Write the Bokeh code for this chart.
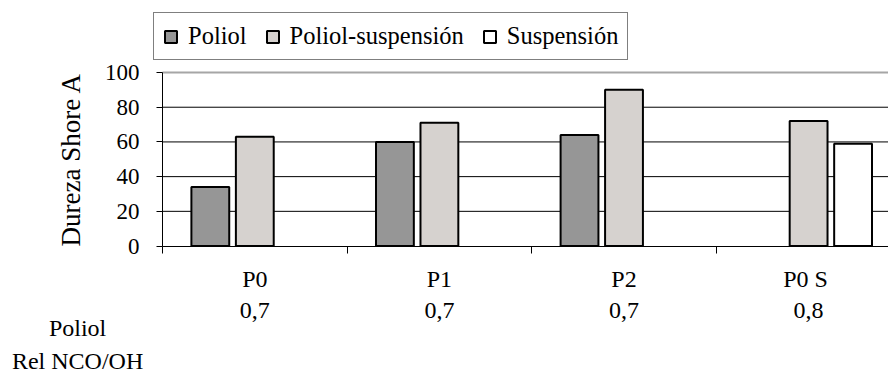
from bokeh.plotting import figure
from bokeh.models import (ColumnDataSource, Range1d, FixedTicker, Legend, LegendItem,
                          Label)
from bokeh.embed import file_html
from bokeh.resources import INLINE

# ---- data ----
categories = ["P0", "P1", "P2", "P0  S"]
rel_nco_oh = ["0,7", "0,7", "0,7", "0,8"]
poliol = [34, 60, 64, None]
poliol_suspension = [63, 71, 90, 72]
suspension = [None, None, None, 59]
series_names = ["Poliol", "Poliol-suspensión", "Suspensión"]
y_ticks = [0, 20, 40, 60, 80, 100]
row_headers = ["Poliol", "Rel NCO/OH"]

# ---- layout / styles ----
FONT = "Liberation Serif"
colors = ["#969696", "#D6D2CF", "#FFFFFF"]
offsets = [-0.241, 0.0, 0.241]
bar_w = 0.205
X0, X1 = -0.8776, 3.9328       # whole canvas is the frame; plot area starts at x=0
Y0, Y1 = -74.6, 141.5          # plot area spans y=0..100
header_pos = [(-0.46, -47.5), (-0.46, -66.0)]

p = figure(width=888, height=375, output_backend="svg", toolbar_location=None,
           x_range=Range1d(X0, X1), y_range=Range1d(Y0, Y1),
           min_border_left=0, min_border_right=0, min_border_top=0,
           min_border_bottom=0, background_fill_color="white",
           border_fill_color="white", outline_line_color=None)
p.grid.visible = False

# horizontal gridlines across the plot area only
grid_y = y_ticks[1:-1]
p.segment(x0=[0] * len(grid_y), x1=[X1] * len(grid_y), y0=grid_y, y1=grid_y,
          line_color="black", line_width=1)
p.segment(x0=[0], x1=[X1], y0=[y_ticks[-1]], y1=[y_ticks[-1]],
          line_color="#a6a6a6", line_width=2)

renderers = []
for vals, col, off in zip([poliol, poliol_suspension, suspension], colors, offsets):
    xs, tops = [], []
    for i, v in enumerate(vals):
        if v is not None:
            xs.append(i + 0.5 + off)
            tops.append(v)
    src = ColumnDataSource(dict(x=xs, top=tops))
    r = p.vbar(x="x", top="top", bottom=0, width=bar_w, source=src,
               fill_color=col, line_color="black", line_width=2)
    renderers.append(r)

# y axis, drawn at x=0
ya = p.yaxis[0]
ya.fixed_location = 0
ya.bounds = (y_ticks[0], y_ticks[-1])
ya.ticker = FixedTicker(ticks=y_ticks)
ya.axis_line_color = "black"
ya.major_tick_line_color = "black"
ya.major_tick_out = 6
ya.major_tick_in = 0
ya.minor_tick_line_color = None
ya.major_label_standoff = 17
ya.major_label_text_font = FONT
ya.major_label_text_font_size = "23px"
ya.major_label_text_color = "black"
ya.axis_label = "Dureza Shore A"
ya.axis_label_text_font = FONT
ya.axis_label_text_font_size = "27px"
ya.axis_label_text_font_style = "normal"
ya.axis_label_text_color = "black"
ya.axis_label_standoff = 16

# x axis, drawn at y=0: labels at category centres, tick marks at boundaries
xa = p.xaxis[0]
xa.fixed_location = 0
xa.bounds = (0, X1)
centers = [i + 0.5 for i in range(len(categories))]
xa.ticker = FixedTicker(ticks=centers, minor_ticks=list(range(len(categories))))
xa.major_label_overrides = {c: f"{cat}\n{r}" for c, cat, r in zip(centers, categories, rel_nco_oh)}
xa.axis_line_color = "black"
xa.major_tick_line_color = None
xa.major_tick_out = 0
xa.major_tick_in = 0
xa.minor_tick_line_color = "black"
xa.minor_tick_out = 7
xa.minor_tick_in = 0
xa.major_label_standoff = 13
xa.major_label_text_font = FONT
xa.major_label_text_font_size = "24px"
xa.major_label_text_color = "black"
xa.major_label_text_line_height = 1.18

# row headers of the table under the axis
for txt, (hx, hy) in zip(row_headers, header_pos):
    p.add_layout(Label(x=hx, y=hy, text=txt, text_align="center",
                       text_baseline="alphabetic", text_font=FONT,
                       text_font_size="24px", text_color="black"))

# legend
items = [LegendItem(label=n, renderers=[r]) for n, r in zip(series_names, renderers)]
legend = Legend(items=items, orientation="horizontal", location=(153, 315),
                border_line_color="black", border_line_width=1,
                background_fill_color="white", background_fill_alpha=1,
                label_text_font=FONT, label_text_font_size="24.5px",
                label_text_color="black", glyph_width=15, glyph_height=15,
                label_standoff=10, spacing=18, padding=9, margin=0)
p.add_layout(legend)

open("out.html", "w").write(file_html(p, INLINE))
